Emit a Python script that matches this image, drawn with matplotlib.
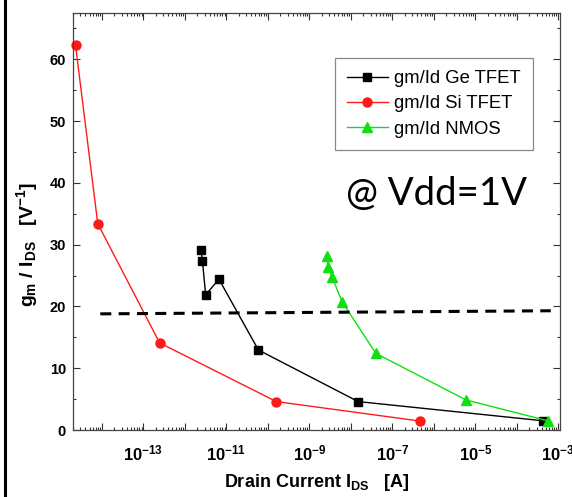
import matplotlib
matplotlib.use('Agg')
import matplotlib.pyplot as plt
from matplotlib import font_manager
from matplotlib.ticker import LogLocator, FuncFormatter, MultipleLocator, NullFormatter
from matplotlib.lines import Line2D
import numpy as np

# ---- data ----
ge_x = [2.45e-12, 2.63e-12, 3.16e-12, 6.6e-12, 5.9e-11, 1.5e-8, 4.2e-4]
ge_y = [29.1, 27.4, 21.9, 24.4, 12.95, 4.6, 1.5]

si_x = [2.3e-15, 7.9e-15, 2.45e-13, 1.6e-10, 4.6e-7]
si_y = [62.3, 33.4, 14.1, 4.6, 1.45]

nmos_x = [2.7e-9, 2.8e-9, 3.5e-9, 6.2e-9, 4.0e-8, 6.0e-6, 5.5e-4]
nmos_y = [28.1, 26.4, 24.8, 20.7, 12.4, 4.86, 1.5]

ref_x = [9.1e-15, 6.6e-4]
ref_y = [18.8, 19.3]

labels = ['gm/Id Ge TFET', 'gm/Id Si TFET', 'gm/Id NMOS']
annotation = '@ Vdd=1V'

# ---- fonts ----
names = {f.name for f in font_manager.fontManager.ttflist}
narrow = 'Liberation Sans Narrow' if 'Liberation Sans Narrow' in names else 'Liberation Sans'
plt.rcParams['font.family'] = [narrow, 'DejaVu Sans']
plt.rcParams['mathtext.fontset'] = 'custom'
plt.rcParams['mathtext.rm'] = f'{narrow}:bold'
plt.rcParams['mathtext.it'] = f'{narrow}:bold'
plt.rcParams['mathtext.bf'] = f'{narrow}:bold'

fig = plt.figure(figsize=(5.72, 4.97), dpi=100)
ax = fig.add_axes([73/572, 67/497, 487/572, 417/497])

ax.plot(ge_x, ge_y, color='black', lw=1.0, marker='s', ms=6, label=labels[0])
ax.plot(si_x, si_y, color='#ff1a1a', lw=1.0, marker='o', ms=6.5, label=labels[1], clip_on=False)
ax.plot(nmos_x, nmos_y, color='#10e010', lw=1.0, marker='^', ms=7, label=labels[2], clip_on=False)
ax.plot(ref_x, ref_y, color='black', lw=2.2, ls=(0, (3.6, 2.4)))

ax.set_xscale('log')
ax.set_xlim(2.0e-15, 1.1e-3)
ax.set_ylim(0, 67.5)

ax.xaxis.set_major_locator(LogLocator(base=10, numticks=30))
ax.xaxis.set_minor_locator(LogLocator(base=10, subs=np.arange(2, 10), numticks=30))
ax.xaxis.set_minor_formatter(NullFormatter())

def xfmt(v, pos):
    e = int(round(np.log10(v)))
    if e % 2 != 0:
        return r'$10^{%d}$' % e
    return ''
ax.xaxis.set_major_formatter(FuncFormatter(xfmt))

ax.yaxis.set_major_locator(MultipleLocator(10))
ax.yaxis.set_minor_locator(MultipleLocator(5))

ax.tick_params(which='both', direction='in', top=True, right=True, colors='#333333')
ax.tick_params(which='major', length=5, width=0.8)
ax.tick_params(which='minor', length=2.5, width=0.8)
ax.tick_params(axis='x', which='major', labelsize=12, pad=10, labelcolor='black')
ax.tick_params(axis='y', which='major', labelsize=10.5, pad=5, labelcolor='black')
for lab in ax.get_yticklabels():
    lab.set_fontweight('bold')

for sp in ax.spines.values():
    sp.set_color('#444444')
    sp.set_linewidth(0.9)

ax.set_xlabel(r'Drain Current $I_{DS}$   [A]', fontsize=13, fontweight='bold', labelpad=6)
ax.set_ylabel(r'$g_m$ / $I_{DS}$   [V$^{-1}$]', fontsize=14, fontweight='bold')
ax.yaxis.set_label_coords(-0.068, 0.444)

leg = ax.legend(loc='upper left', bbox_to_anchor=(0.538, 0.892), borderaxespad=0,
                prop={'family': ['Liberation Sans', 'DejaVu Sans'], 'size': 13.3},
                frameon=True, fancybox=False, edgecolor='#888888', framealpha=1,
                handlelength=2.2, handletextpad=0.35, labelspacing=0.45, borderpad=0.65)
leg.get_frame().set_linewidth(0.9)

ax.text(0.747, 0.566, annotation, transform=ax.transAxes, ha='center', va='center',
        fontsize=27.5, family=['Lato', 'DejaVu Sans'], color='black')

fig.add_artist(Line2D([5.3/572, 5.3/572], [0, 1], transform=fig.transFigure,
                      color='black', lw=2.2))

fig.savefig('out.png', dpi=100)
